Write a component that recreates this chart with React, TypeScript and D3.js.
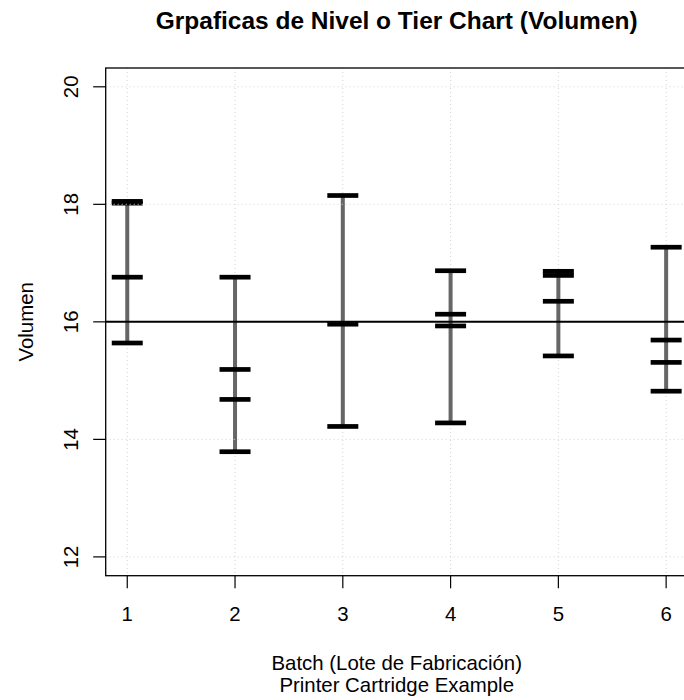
import React from "react";
import * as d3 from "d3";

const batches = [1, 2, 3, 4, 5, 6];
const batchValues: number[][] = [
  [18.05, 18.02, 16.76, 15.64],
  [16.76, 15.19, 14.68, 13.79],
  [18.15, 15.96, 14.22],
  [16.87, 16.13, 15.93, 14.28],
  [16.86, 16.79, 16.35, 15.42],
  [17.27, 15.69, 15.31, 14.82],
];
const yTicks = [12, 14, 16, 18, 20];
const target = 16;
const title = "Grpaficas de Nivel o Tier Chart (Volumen)";
const xLabel1 = "Batch (Lote de Fabricación)";
const xLabel2 = "Printer Cartridge Example";
const yLabel = "Volumen";

const W = 684;
const H = 700;
const left = 105.7;
const right = 687.7;
const top = 68;
const bottom = 575.7;
const font = "'Liberation Sans', Arial, Helvetica, sans-serif";
const fs = 20.4;

export default function App() {
  const x = d3.scaleLinear().domain([0.8, 6.2]).range([left, right]);
  const y = d3.scaleLinear().domain([11.68, 20.32]).range([bottom, top]);
  const halfTick = 15.5;
  const cx = (left + right) / 2;

  return (
    <svg
      width={W}
      height={H}
      style={{ position: "absolute", left: 0, top: 0, background: "#fff" }}
      fontFamily={font}
    >
      <rect x={0} y={0} width={W} height={H} fill="#fff" />
      <text x={cx} y={28.5} textAnchor="middle" fontWeight="bold" fontSize={fs * 1.2}>
        {title}
      </text>
      {/* vertical grid */}
      {batches.map((b) => (
        <line
          key={"gx" + b}
          x1={x(b)}
          x2={x(b)}
          y1={top}
          y2={bottom}
          stroke="#d3d3d3"
          strokeWidth={1}
          strokeDasharray="1 3"
        />
      ))}
      {/* gray range segments */}
      {batches.map((b, i) => {
        const vals = batchValues[i];
        return (
          <line
            key={"seg" + b}
            x1={x(b)}
            x2={x(b)}
            y1={y(d3.max(vals)!)}
            y2={y(d3.min(vals)!)}
            stroke="#666666"
            strokeWidth={4}
          />
        );
      })}
      {/* observation ticks */}
      {batches.map((b, i) =>
        batchValues[i].map((v, j) => (
          <line
            key={"t" + b + "-" + j}
            x1={x(b) - halfTick}
            x2={x(b) + halfTick}
            y1={y(v)}
            y2={y(v)}
            stroke="#000"
            strokeWidth={4.7}
          />
        ))
      )}
      {/* horizontal grid */}
      {yTicks.map((t) => (
        <line
          key={"gy" + t}
          x1={left}
          x2={right}
          y1={y(t)}
          y2={y(t)}
          stroke="#d3d3d3"
          strokeWidth={1}
          strokeDasharray="1 3"
        />
      ))}
      {/* target line */}
      <line x1={left} x2={right} y1={y(target)} y2={y(target)} stroke="#000" strokeWidth={2} />
      {/* frame */}
      <rect
        x={left}
        y={top}
        width={right - left}
        height={bottom - top}
        fill="none"
        stroke="#000"
        strokeWidth={1.3}
      />
      {/* y axis */}
      {yTicks.map((t) => (
        <g key={"yt" + t}>
          <line x1={left - 12.5} x2={left} y1={y(t)} y2={y(t)} stroke="#000" strokeWidth={1.2} />
          <text
            transform={`translate(${78},${y(t)}) rotate(-90)`}
            textAnchor="middle"
            fontSize={fs}
          >
            {t}
          </text>
        </g>
      ))}
      {/* x axis */}
      {batches.map((b) => (
        <g key={"xt" + b}>
          <line x1={x(b)} x2={x(b)} y1={bottom} y2={bottom + 12.6} stroke="#000" strokeWidth={1.2} />
          <text x={x(b)} y={621} textAnchor="middle" fontSize={fs}>
            {b}
          </text>
        </g>
      ))}
      <text x={cx} y={670} textAnchor="middle" fontSize={fs}>
        {xLabel1}
      </text>
      <text x={cx} y={692} textAnchor="middle" fontSize={fs}>
        {xLabel2}
      </text>
      <text
        transform={`translate(${33},${(top + bottom) / 2}) rotate(-90)`}
        textAnchor="middle"
        fontSize={fs}
      >
        {yLabel}
      </text>
    </svg>
  );
}
